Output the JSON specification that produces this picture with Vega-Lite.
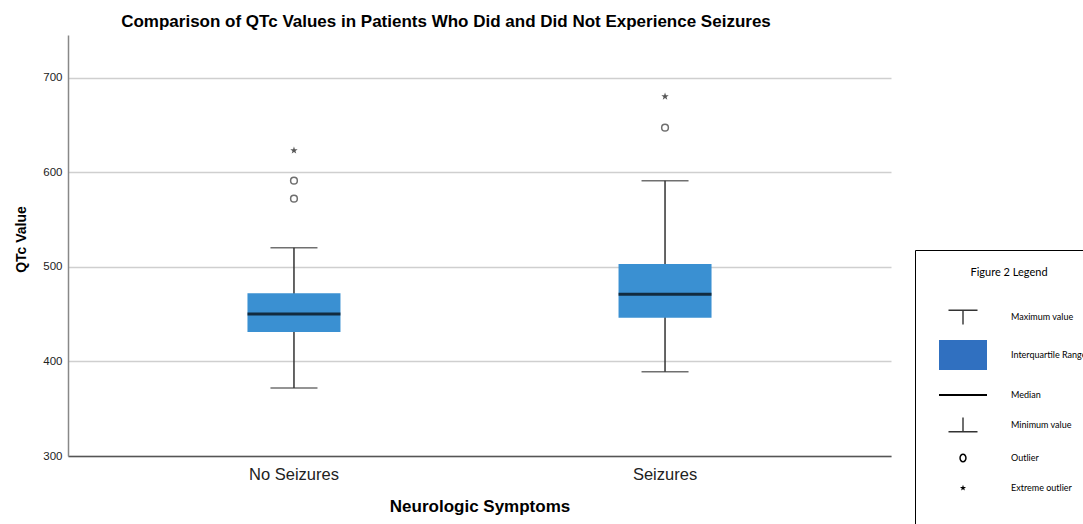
{
  "$schema": "https://vega.github.io/schema/vega-lite/v6.json",
  "width": 823,
  "height": 421,
  "autosize": {"type": "none"},
  "padding": {"left": 68, "top": 35, "right": 192, "bottom": 68},
  "background": "white",
  "title": {
    "text": "Comparison of QTc Values in Patients Who Did and Did Not Experience Seizures",
    "font": "Liberation Sans",
    "fontSize": 17,
    "fontWeight": "bold",
    "color": "black",
    "anchor": "middle",
    "dx": -33.5,
    "offset": -9,
    "baseline": "alphabetic"
  },
  "config": {"view": {"stroke": null}, "font": "Liberation Sans"},
  "datasets": {
    "summary": [
      {"group": "No Seizures", "min": 372, "q1": 431, "median": 450, "q3": 472, "max": 520},
      {"group": "Seizures", "min": 389, "q1": 446, "median": 471, "q3": 503, "max": 591}
    ],
    "outliers": [
      {"group": "No Seizures", "qtc": 591, "kind": "Outlier"},
      {"group": "No Seizures", "qtc": 572, "kind": "Outlier"},
      {"group": "No Seizures", "qtc": 623, "kind": "Extreme outlier"},
      {"group": "Seizures", "qtc": 647, "kind": "Outlier"},
      {"group": "Seizures", "qtc": 680, "kind": "Extreme outlier"}
    ],
    "legenditems": [
      {"item": "Maximum value"},
      {"item": "Interquartile Range"},
      {"item": "Median"},
      {"item": "Minimum value"},
      {"item": "Outlier"},
      {"item": "Extreme outlier"}
    ]
  },
  "layer": [
    {
      "data": {"name": "summary"},
      "mark": {"type": "rule", "color": "#333333", "strokeWidth": 1.5},
      "encoding": {
        "x": {
          "field": "group",
          "type": "nominal",
          "title": "Neurologic Symptoms",
          "scale": {"type": "band", "paddingInner": 0.5, "paddingOuter": 0.359},
          "axis": {
            "labelAngle": 0,
            "labelFont": "Liberation Sans",
            "labelFontSize": 16.5,
            "labelColor": "#222222",
            "labelPadding": 10.5,
            "ticks": false,
            "domainColor": "#555555",
            "domainWidth": 1.5,
            "titleFont": "Liberation Sans",
            "titleFontSize": 17,
            "titleFontWeight": "bold",
            "titleColor": "black",
            "titlePadding": 15
          }
        },
        "y": {
          "field": "min",
          "type": "quantitative",
          "title": "QTc Value",
          "scale": {"domain": [300, 745], "nice": false, "zero": false},
          "axis": {
            "values": [300, 400, 500, 600, 700],
            "grid": true,
            "gridColor": "#cfcfcf",
            "gridWidth": 1.5,
            "ticks": false,
            "domainColor": "#888888",
            "domainWidth": 1.5,
            "labelFont": "Liberation Sans",
            "labelFontSize": 11.5,
            "labelColor": "#222222",
            "labelPadding": 6,
            "titleFont": "Liberation Sans",
            "titleFontSize": 14,
            "titleFontWeight": "bold",
            "titleColor": "black",
            "titlePadding": 14,
            "titleY": 204
          }
        },
        "y2": {"field": "max"}
      }
    },
    {
      "data": {"name": "summary"},
      "mark": {"type": "tick", "color": "#333333", "size": 47, "thickness": 1.5},
      "encoding": {
        "x": {"field": "group", "type": "nominal", "title": "Neurologic Symptoms"},
        "y": {"field": "max", "type": "quantitative", "title": "QTc Value"}
      }
    },
    {
      "data": {"name": "summary"},
      "mark": {"type": "tick", "color": "#333333", "size": 47, "thickness": 1.5},
      "encoding": {
        "x": {"field": "group", "type": "nominal", "title": "Neurologic Symptoms"},
        "y": {"field": "min", "type": "quantitative", "title": "QTc Value"}
      }
    },
    {
      "data": {"name": "summary"},
      "mark": {"type": "bar", "width": 93, "color": "#3a90d2"},
      "encoding": {
        "x": {"field": "group", "type": "nominal", "title": "Neurologic Symptoms"},
        "y": {"field": "q1", "type": "quantitative", "title": "QTc Value"},
        "y2": {"field": "q3"}
      }
    },
    {
      "data": {"name": "summary"},
      "mark": {"type": "tick", "color": "black", "size": 93, "thickness": 3},
      "encoding": {
        "x": {"field": "group", "type": "nominal", "title": "Neurologic Symptoms"},
        "y": {"field": "median", "type": "quantitative", "title": "QTc Value"}
      }
    },
    {
      "data": {"name": "outliers"},
      "transform": [{"filter": "datum.kind === 'Outlier'"}],
      "mark": {"type": "point", "shape": "circle", "filled": false, "color": "#333333", "size": 45, "strokeWidth": 1.5},
      "encoding": {
        "x": {"field": "group", "type": "nominal", "title": "Neurologic Symptoms"},
        "y": {"field": "qtc", "type": "quantitative", "title": "QTc Value"}
      }
    },
    {
      "data": {"name": "outliers"},
      "transform": [{"filter": "datum.kind === 'Extreme outlier'"}],
      "mark": {
        "type": "point",
        "shape": "M0,-1L0.235,-0.324L0.951,-0.309L0.38,0.124L0.588,0.809L0,0.4L-0.588,0.809L-0.38,0.124L-0.951,-0.309L-0.235,-0.324Z",
        "filled": true,
        "color": "#111111",
        "size": 60,
        "strokeWidth": 0
      },
      "encoding": {
        "x": {"field": "group", "type": "nominal", "title": "Neurologic Symptoms"},
        "y": {"field": "qtc", "type": "quantitative", "title": "QTc Value"}
      }
    },
    {
      "data": {"name": "legenditems"},
      "mark": {"type": "point", "filled": true, "opacity": 0},
      "encoding": {
        "shape": {
          "field": "item",
          "type": "nominal",
          "title": "Figure 2 Legend",
          "scale": {
            "domain": ["Maximum value", "Interquartile Range", "Median", "Minimum value", "Outlier", "Extreme outlier", " "],
            "range": [
              "M0.65,-0.75H3.55V-0.6H2.17V0.75H2.03V-0.6H0.65Z",
              "M-0.3,-1.5H4.5V1.5H-0.3Z",
              "M-0.3,-0.1H4.5V0.1H-0.3Z",
              "M2.03,-0.75H2.17V0.6H3.55V0.75H0.65V0.6H2.03Z",
              "M1.73,0A0.37,0.45 0 1,0 2.47,0A0.37,0.45 0 1,0 1.73,0ZM1.88,0A0.22,0.3 0 1,1 2.32,0A0.22,0.3 0 1,1 1.88,0Z",
              "M2.1,-0.32L2.175,-0.104L2.404,-0.099L2.222,0.04L2.288,0.259L2.1,0.128L1.912,0.259L1.978,0.04L1.796,-0.099L2.025,-0.104Z",
              "M2.1,0Z"
            ]
          },
          "legend": {
            "orient": "none",
            "legendX": 847,
            "legendY": 215,
            "titleFont": "Lato",
            "titleFontSize": 11,
            "titleFontWeight": "normal",
            "titleColor": "black",
            "titleAnchor": "middle",
            "titlePadding": 29,
            "labelFont": "Lato",
            "labelFontSize": 9,
            "labelColor": "black",
            "labelOffset": 59,
            "labelLimit": 200,
            "symbolSize": 400,
            "symbolStrokeWidth": 0,
            "symbolOpacity": 1,
            "rowPadding": 15,
            "padding": 17,
            "strokeColor": "black",
            "fillColor": "white",
            "encode": {"legend": {"update": {"strokeWidth": {"value": 3}}}}
          }
        },
        "color": {
          "field": "item",
          "type": "nominal",
          "title": "Figure 2 Legend",
          "scale": {
            "domain": ["Maximum value", "Interquartile Range", "Median", "Minimum value", "Outlier", "Extreme outlier", " "],
            "range": ["#333333", "#3070c0", "#000000", "#333333", "#000000", "#000000", "#ffffff"]
          }
        }
      }
    }
  ]
}
